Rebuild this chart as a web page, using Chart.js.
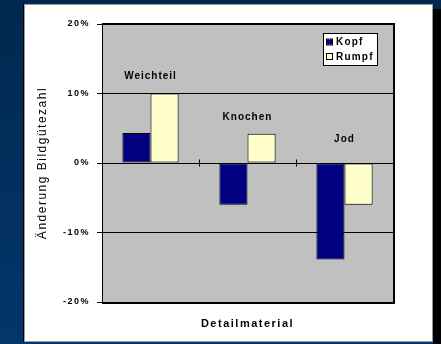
<!DOCTYPE html>
<html>
<head>
<meta charset="utf-8">
<script src="https://cdn.jsdelivr.net/npm/chart.js@4"></script>
<style>
  html, body { margin: 0; padding: 0; background: #022c5a; }
  #wrap { width: 441px; height: 344px; }
</style>
</head>
<body>
<div id="wrap"><canvas id="myChart" width="441" height="344"></canvas></div>
<script>
const categories = ['Weichteil', 'Knochen', 'Jod'];
const kopfValues = [4.3, -6.0, -13.9];
const rumpfValues = [10.0, 4.2, -6.0];
const seriesNames = ['Kopf', 'Rumpf'];
const yTicks = [-20, -10, 0, 10, 20];

const FONT = '"Liberation Sans", Arial, sans-serif';

// background, panel and grey plot area
const panelPlugin = {
  id: 'panel',
  beforeUpdate(chart) {
    chart.ctx.letterSpacing = '1.5px';
  },
  beforeDraw(chart) {
    const ctx = chart.ctx;
    const w = chart.width, h = chart.height;
    const a = chart.chartArea;
    ctx.save();
    const g = ctx.createLinearGradient(0, 0, 0, h);
    g.addColorStop(0, '#01284f');
    g.addColorStop(1, '#03366a');
    ctx.fillStyle = g;
    ctx.fillRect(0, 0, w, h);
    // shadow
    ctx.fillStyle = '#000000';
    ctx.fillRect(433, 9, w - 433, h - 9);
    ctx.fillRect(23, 4, 1, 338);
    // panel
    ctx.fillStyle = '#ffffff';
    ctx.fillRect(24, 4, 408, 337);
    ctx.strokeStyle = '#9a9a9a';
    ctx.lineWidth = 1;
    ctx.strokeRect(24.5, 4.5, 408, 337);
    // plot area
    ctx.fillStyle = '#c0c0c0';
    ctx.fillRect(a.left, a.top, a.right - a.left, a.bottom - a.top);
    ctx.restore();
    ctx.letterSpacing = '1.5px';
  },
  afterDatasetsDraw(chart) {
    const ctx = chart.ctx;
    const a = chart.chartArea;
    const x = chart.scales.x, y = chart.scales.y;
    ctx.save();
    ctx.strokeStyle = '#000000';
    // plot frame
    ctx.lineWidth = 2;
    ctx.beginPath();
    ctx.moveTo(a.left, a.top);
    ctx.lineTo(a.right + 1, a.top);
    ctx.lineTo(a.right + 1, a.bottom + 1);
    ctx.lineTo(a.left, a.bottom + 1);
    ctx.stroke();
    // tick marks between categories on the zero line
    const y0 = Math.round(y.getPixelForValue(0)) + 0.5;
    ctx.lineWidth = 1;
    for (let i = 1; i < categories.length; i++) {
      const xb = Math.round((x.getPixelForValue(i - 1) + x.getPixelForValue(i)) / 2) + 0.5;
      ctx.beginPath();
      ctx.moveTo(xb, y0 - 4);
      ctx.lineTo(xb, y0 + 3);
      ctx.stroke();
    }
    // category labels above each group
    ctx.fillStyle = '#000000';
    ctx.font = 'bold 10px ' + FONT;
    ctx.letterSpacing = '1px';
    ctx.textAlign = 'center';
    ctx.textBaseline = 'middle';
    categories.forEach((c, i) => {
      const top = Math.max(0, kopfValues[i], rumpfValues[i]);
      const off = top > 0 ? 17 : 24;
      ctx.fillText(c, x.getPixelForValue(i), y.getPixelForValue(top) - off);
    });
    // legend box
    const lw = 54, lh = 32;
    const lx = a.right - 16 - lw, ly = a.top + 9;
    ctx.fillStyle = '#ffffff';
    ctx.fillRect(lx, ly, lw, lh);
    ctx.lineWidth = 1;
    ctx.strokeRect(lx + 0.5, ly + 0.5, lw, lh);
    ctx.font = 'bold 10px ' + FONT;
    ctx.letterSpacing = '1.2px';
    ctx.textAlign = 'left';
    chart.data.datasets.forEach((ds, i) => {
      const cy = ly + 9.5 + i * 14.5;
      ctx.fillStyle = ds.backgroundColor;
      ctx.fillRect(lx + 4, cy - 3, 5, 5);
      ctx.strokeStyle = '#000000';
      ctx.strokeRect(lx + 3.5, cy - 3.5, 6, 6);
      ctx.fillStyle = '#000000';
      ctx.fillText(ds.label, lx + 13, cy);
    });
    ctx.restore();
    ctx.letterSpacing = '1.5px';
  }
};

const options = {
  type: 'bar',
  data: {
    labels: categories,
    datasets: [
      {
        label: seriesNames[0],
        data: kopfValues,
        backgroundColor: '#000080',
        borderColor: '#000000',
        borderWidth: 1,
        borderSkipped: false
      },
      {
        label: seriesNames[1],
        data: rumpfValues,
        backgroundColor: '#ffffcc',
        borderColor: '#000000',
        borderWidth: 1,
        borderSkipped: false
      }
    ]
  },
  options: {
    responsive: false,
    animation: false,
    events: [],
    layout: { padding: { left: 24, right: 48, top: 24, bottom: 0 } },
    categoryPercentage: 0.58,
    barPercentage: 1.0,
    plugins: {
      legend: { display: false },
      tooltip: { enabled: false }
    },
    scales: {
      x: {
        position: 'bottom',
        grid: { display: false },
        border: { display: false },
        ticks: { display: false },
        title: {
          display: true,
          text: 'Detailmaterial',
          color: '#000000',
          font: { family: FONT, size: 11, weight: 'bold' },
          padding: { top: 0, bottom: 13 }
        },
        afterFit(scale) { scale.height = 42; }
      },
      y: {
        min: -20,
        max: 20,
        afterBuildTicks(scale) { scale.ticks = yTicks.map(v => ({ value: v })); },
        ticks: {
          color: '#000000',
          font: { family: FONT, size: 9, weight: 'bold' },
          padding: 7,
          callback: (v) => v + '%'
        },
        grid: { color: '#000000', lineWidth: 1, tickLength: 5 },
        border: { display: true, color: '#000000', width: 1 },
        title: {
          display: true,
          text: 'Änderung Bildgütezahl',
          color: '#000000',
          font: { family: FONT, size: 12 },
          padding: { top: 11, bottom: 0 }
        },
        afterFit(scale) { scale.width = 78; }
      }
    }
  },
  plugins: [panelPlugin]
};

const ctx = document.getElementById('myChart').getContext('2d');
new Chart(ctx, options);
</script>
</body>
</html>
